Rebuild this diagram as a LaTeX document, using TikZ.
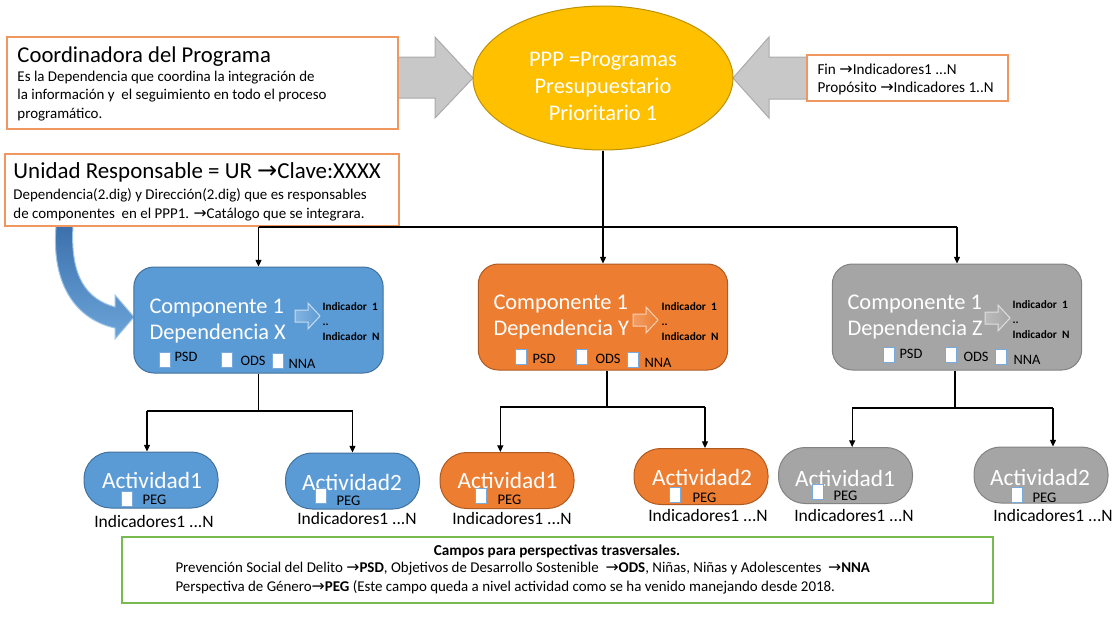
\documentclass[tikz,border=0pt]{standalone}
\usepackage{fontspec}
\setmainfont{Carlito}
\newfontfamily\flechafont{DejaVu Sans}
\usetikzlibrary{arrows.meta,shapes.geometric}

\definecolor{azul}{RGB}{91,155,213}
\definecolor{azulborde}{RGB}{65,113,156}
\definecolor{azuloscuro}{RGB}{60,112,172}
\definecolor{naranja}{RGB}{237,125,49}
\definecolor{naranjaborde}{RGB}{174,90,33}
\definecolor{gris}{RGB}{165,165,165}
\definecolor{grisborde}{RGB}{130,130,130}
\definecolor{oro}{RGB}{255,192,0}
\definecolor{oroborde}{RGB}{190,145,0}
\definecolor{flechagris}{RGB}{200,200,200}
\definecolor{flechagrisborde}{RGB}{170,170,170}
\definecolor{marcona}{RGB}{240,150,95}
\definecolor{marcove}{RGB}{120,185,80}
\definecolor{casillaborde}{RGB}{120,170,220}

\newcommand{\fl}{{\flechafont\fontsize{1.05em}{1em}\selectfont →}}
% flecha de bloque chica dentro de cada componente
\newcommand{\flechita}[3]{%
  \draw[draw=#3!35!white, left color=#3!75!white, right color=#3] (#1,#2-6) -- (#1+13,#2-6) -- (#1+13,#2-13) -- (#1+25,#2) -- (#1+13,#2+13) -- (#1+13,#2+6) -- (#1,#2+6) -- cycle;}

\tikzset{every picture/.style={line width=0.75pt}}
\tikzset{
  marco/.style={draw=marcona, fill=white, line width=1pt},
  titulo/.style={font=\fontsize{17}{20}\selectfont, inner sep=0pt, anchor=west},
  cuerpo/.style={font=\fontsize{11.2}{13.9}\selectfont, inner sep=0pt, align=left, anchor=west},
  compo/.style={draw=#1borde, fill=#1, rounded corners=15pt, minimum width=187pt, minimum height=79.5pt, inner sep=0pt},
  actv/.style={draw=#1borde, fill=#1, rounded corners=20pt, minimum width=100.5pt, minimum height=42pt, inner sep=0pt},
  blanco/.style={text=white, inner sep=0pt, align=left},
  comptxt/.style={blanco, font=\fontsize{16.8}{19.5}\selectfont, anchor=west},
  acttxt/.style={blanco, font=\fontsize{17.5}{19.5}\selectfont},
  indic/.style={font=\bfseries\fontsize{8.5}{11.25}\selectfont, inner sep=0pt, align=left, anchor=west},
  casilla/.style={draw=casillaborde, fill=white, minimum width=8pt, minimum height=11pt, inner sep=0pt},
  etiq/.style={font=\fontsize{10.8}{12}\selectfont, inner sep=0pt, anchor=west},
  peg/.style={font=\fontsize{11}{12}\selectfont, inner sep=0pt, anchor=west},
  indtxt/.style={font=\fontsize{13.1}{14}\selectfont, inner sep=0pt},
  conn/.style={-{Triangle[length=5pt,width=4.5pt]}, line width=0.9pt},
  linea/.style={line width=0.9pt},
  flechagrande/.style={draw=flechagrisborde, fill=flechagris}
}

\begin{document}
\begin{tikzpicture}[x=0.75pt,y=0.75pt,yscale=-1,xscale=1]
\useasboundingbox (0,0) rectangle (1118,629);

%Flechas grises hacia el PPP
\draw[flechagrande] (398,57) -- (435,57) -- (435,37) -- (473,78) -- (435,118) -- (435,98) -- (398,98) -- cycle;
\draw[flechagrande] (810,57) -- (769,57) -- (769,37) -- (733,78) -- (769,118) -- (769,99) -- (810,99) -- cycle;

%Shape: Ellipse
\node[ellipse, draw=oroborde, fill=oro, minimum width=195pt, minimum height=108pt, inner sep=0pt] (ppp) at (603,78) {};
\node[blanco, align=center, font=\fontsize{16.8}{20.25}\selectfont] (ppptxt) at (603,86) {PPP =Programas\\Presupuestario\\Prioritario 1};

%Cuadros de texto
\draw[marco] (7,37) rectangle (398,129);
\node[titulo] (coordtit) at (17,57) {Coordinadora del Programa};
\node[cuerpo] (coordtxt) at (17,96) {Es la Dependencia que coordina la integración de\\la información y \ el seguimiento en todo el proceso\\programático.};

\draw[marco] (807,55) rectangle (1008,101);
\node[cuerpo, font=\fontsize{11.4}{13.5}\selectfont] (fintxt) at (817,79) {Fin \fl Indicadores1 ...N\\Propósito \fl Indicadores 1..N};

%Flecha curva azul
\shade[top color=azuloscuro, bottom color=azul!90!white, draw=azul!60!white] (56,226) .. controls (51,287) and (78,320) .. (115,328) -- (115,339) -- (134,317) -- (115,295) -- (115,307) .. controls (86,299) and (70,276) .. (73,226) -- cycle;

\draw[marco] (5,154) rectangle (399,226);
\node[titulo, font=\fontsize{17.2}{20}\selectfont] (urtit) at (13,172) {Unidad Responsable = UR \fl Clave:XXXX};
\node[cuerpo] (urtxt) at (13,205) {Dependencia(2.dig) y Dirección(2.dig) que es responsables\\de componentes \ en el PPP1. \fl Catálogo que se integrara.};

%Componentes
\node[compo=azul] (compX) at (258.5,320) {};
\node[compo=naranja] (compY) at (603,317) {};
\node[compo=gris] (compZ) at (957,317) {};

\node[comptxt] (compXt) at (149,321) {Componente 1\\Dependencia X};
\node[comptxt] (compYt) at (493,317) {Componente 1\\Dependencia Y};
\node[comptxt] (compZt) at (847,317) {Componente 1\\Dependencia Z};

\flechita{295}{316}{azul}
\flechita{633}{320}{naranja}
\flechita{985}{318}{gris}

\node[indic] (indX) at (322,322) {Indicador \ 1\\..\\Indicador \ N};
\node[indic] (indY) at (661,322) {Indicador \ 1\\..\\Indicador \ N};
\node[indic] (indZ) at (1012,320) {Indicador \ 1\\..\\Indicador \ N};

\node[casilla] (psdX) at (165,360) {};
\node[etiq] (psdXt) at (174,357) {PSD};
\node[casilla] (odsX) at (227,360) {};
\node[etiq] (odsXt) at (240,361) {ODS};
\node[casilla] (nnaX) at (278,361) {};
\node[etiq] (nnaXt) at (288,364) {NNA};

\node[casilla] (psdY) at (521,357) {};
\node[etiq] (psdYt) at (532,359) {PSD};
\node[casilla] (odsY) at (582,357) {};
\node[etiq] (odsYt) at (595,359) {ODS};
\node[casilla] (nnaY) at (633,360) {};
\node[etiq] (nnaYt) at (644,363) {NNA};

\node[casilla] (psdZ) at (889,355) {};
\node[etiq] (psdZt) at (899,354) {PSD};
\node[casilla] (odsZ) at (951,355) {};
\node[etiq] (odsZt) at (963,357) {ODS};
\node[casilla] (nnaZ) at (1001,357) {};
\node[etiq] (nnaZt) at (1013,360) {NNA};

%Conectores superiores
\coordinate (bus) at (0,227);
\draw[linea] (compX.north |- bus) -- (compZ.north |- bus);
\draw[conn] (compX.north |- bus) -- (compX.north);
\draw[conn] (ppp.south) -- (compY.north);
\draw[conn] (compZ.north |- bus) -- (compZ.north);

%Actividades
\node[actv=azul] (aX1) at (151,480) {};
\node[actv=azul] (aX2) at (352.5,481) {};
\node[actv=naranja] (aY1) at (507,480.5) {};
\node[actv=naranja] (aY2) at (701,476.5) {};
\node[actv=gris] (aZ1) at (845.5,475.5) {};
\node[actv=gris] (aZ2) at (1041,475) {};

\node[acttxt] (aX1t) at (152,480) {Actividad1};
\node[acttxt] (aX2t) at (352,482) {Actividad2};
\node[acttxt] (aY1t) at (507.5,480) {Actividad1};
\node[acttxt] (aY2t) at (702,477) {Actividad2};
\node[acttxt] (aZ1t) at (845,478) {Actividad1};
\node[acttxt] (aZ2t) at (1040,477) {Actividad2};

\node[casilla] (pegX1) at (127,499) {};
\node[peg] (pegX1t) at (142,500) {PEG};
\node[casilla] (pegX2) at (321,496) {};
\node[peg] (pegX2t) at (336,501) {PEG};
\node[casilla] (pegY1) at (481,496) {};
\node[peg] (pegY1t) at (497,500) {PEG};
\node[casilla] (pegY2) at (675,495) {};
\node[peg] (pegY2t) at (692,498) {PEG};
\node[casilla] (pegZ1) at (818,492) {};
\node[peg] (pegZ1t) at (833,496) {PEG};
\node[casilla] (pegZ2) at (1017,495) {};
\node[peg] (pegZ2t) at (1032,498) {PEG};

\node[indtxt] (iX1) at (154,521) {Indicadores1 ...N};
\node[indtxt] (iX2) at (357,518) {Indicadores1 ...N};
\node[indtxt] (iY1) at (512,518) {Indicadores1 ...N};
\node[indtxt] (iY2) at (708,515) {Indicadores1 ...N};
\node[indtxt] (iZ1) at (854,515) {Indicadores1 ...N};
\node[indtxt] (iZ2) at (1053,515) {Indicadores1 ...N};

%Conectores inferiores
\coordinate (busX) at (0,411);
\coordinate (busY) at (0,407);
\coordinate (busZ) at (0,408);
\coordinate (tX1) at ([xshift=-3pt]aX1.north);
\coordinate (tX2) at (aX2.north);
\coordinate (tY1) at ([xshift=-5pt]aY1.north);
\coordinate (tY2) at ([xshift=3pt]aY2.north);
\coordinate (tZ1) at ([xshift=5pt]aZ1.north);
\coordinate (tZ2) at ([xshift=9pt]aZ2.north);

\draw[linea] (compX.south) -- (compX.south |- busX);
\draw[linea] (tX1 |- busX) -- (tX2 |- busX);
\draw[conn] (tX1 |- busX) -- (tX1);
\draw[conn] (tX2 |- busX) -- (tX2);

\draw[linea] ([xshift=3pt]compY.south) -- ([xshift=3pt]compY.south |- busY);
\draw[linea] (tY1 |- busY) -- (tY2 |- busY);
\draw[conn] (tY1 |- busY) -- (tY1);
\draw[conn] (tY2 |- busY) -- (tY2);

\draw[linea] ([xshift=-1.5pt]compZ.south) -- ([xshift=-1.5pt]compZ.south |- busZ);
\draw[linea] (tZ1 |- busZ) -- (tZ2 |- busZ);
\draw[conn] (tZ1 |- busZ) -- (tZ1);
\draw[conn] (tZ2 |- busZ) -- (tZ2);

%Campos transversales
\draw[draw=marcove, fill=white, line width=0.9pt] (122,537) rectangle (993,603);
\node[font=\bfseries\fontsize{11.4}{12}\selectfont, inner sep=0pt] (campostit) at (557,551) {Campos para perspectivas trasversales.};
\node[cuerpo, font=\fontsize{11.2}{14.25}\selectfont] (campostxt) at (175,578.5) {Prevención Social del Delito \fl\textbf{PSD}, Objetivos de Desarrollo Sostenible \ \fl\textbf{ODS}, Niñas, Niñas y Adolescentes \ \fl\textbf{NNA}\\Perspectiva de Género\fl\textbf{PEG} (Este campo queda a nivel actividad como se ha venido manejando desde 2018.};

\end{tikzpicture}
\end{document}
